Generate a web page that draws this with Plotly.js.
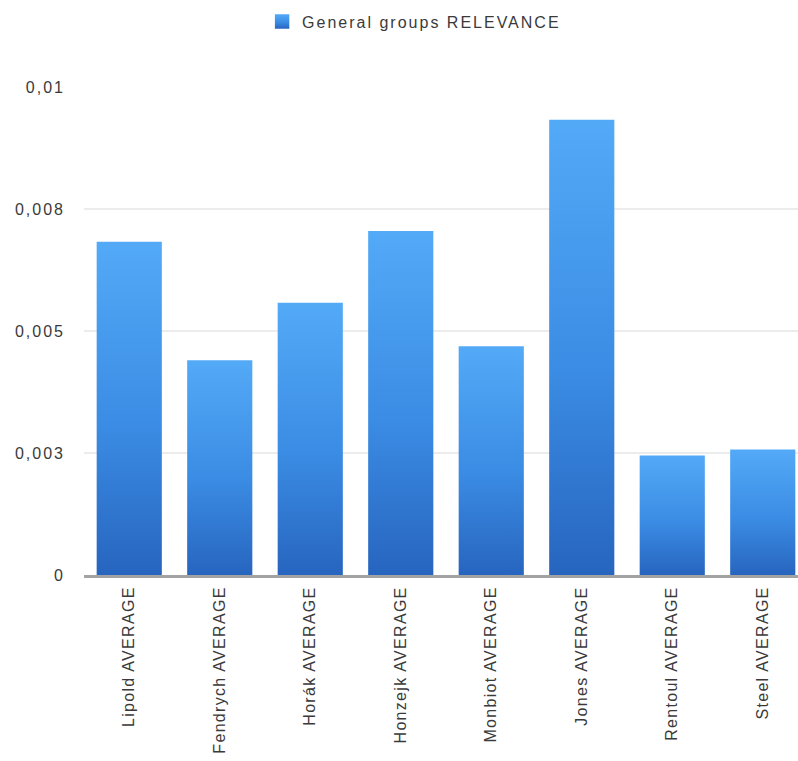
<!DOCTYPE html>
<html>
<head>
<meta charset="utf-8">
<script src="https://cdn.plot.ly/plotly-3.0.1.min.js"></script>
<style>
  html, body { margin: 0; padding: 0; background: #ffffff; overflow: hidden; }
  #chart { width: 808px; height: 761px; }
  .main-svg text { letter-spacing: 2px; }
  .main-svg .xtick text { letter-spacing: 1.3px; }
</style>
</head>
<body>
<div id="chart"></div>
<script>
// Average relevance per author group
const categories = [
  "Lipold AVERAGE",
  "Fendrych AVERAGE",
  "Horák AVERAGE",
  "Honzejk AVERAGE",
  "Monbiot AVERAGE",
  "Jones AVERAGE",
  "Rentoul AVERAGE",
  "Steel AVERAGE"
];
const relevance = [0.00683, 0.00440, 0.00558, 0.00705, 0.00469, 0.00933, 0.00245, 0.00257];
const seriesName = "General groups RELEVANCE";

// y axis ticks (labels are shown rounded to three decimals with a comma)
const yTickVals = [0, 0.0025, 0.005, 0.0075, 0.01];
const yTickText = ["0", "0,003", "0,005", "0,008", "0,01"];

const font = { family: "Liberation Sans, Arial, sans-serif", size: 16, color: "#3a3a3a" };

const trace = {
  type: "bar",
  name: seriesName,
  x: categories,
  y: relevance,
  marker: { color: "#3f8fe6", line: { width: 0 } },
  showlegend: true,
  hoverinfo: "x+y"
};

const layout = {
  width: 808,
  height: 761,
  margin: { l: 84, r: 0, t: 87, b: 186, pad: 0 },
  paper_bgcolor: "#ffffff",
  plot_bgcolor: "#ffffff",
  font: font,
  bargap: 0.28,
  showlegend: true,
  legend: {
    orientation: "h",
    x: 0.246, xanchor: "left",
    y: 1.134, yanchor: "middle",
    font: font,
    itemwidth: 30,
    entrywidth: 320,
    entrywidthmode: "pixels"
  },
  xaxis: {
    type: "category",
    tickangle: -90,
    ticks: "",
    showgrid: false,
    showline: true,
    linecolor: "#a3a3a3",
    linewidth: 3,
    ticklabelstandoff: 2,
    tickfont: font
  },
  yaxis: {
    range: [0, 0.01],
    tickvals: yTickVals,
    ticktext: yTickText,
    showgrid: true,
    gridcolor: "#ececec",
    gridwidth: 2,
    zeroline: false,
    showline: false,
    ticks: "",
    ticklabelstandoff: 18,
    tickfont: font
  }
};

Plotly.newPlot("chart", [trace], layout, { displayModeBar: false, staticPlot: true }).then(function (gd) {
  // vertical light-to-dark blue gradient for each bar and the legend swatch
  const svgNS = "http://www.w3.org/2000/svg";
  const svg = gd.querySelector(".main-svg");
  let defs = svg.querySelector("defs");
  if (!defs) { defs = document.createElementNS(svgNS, "defs"); svg.insertBefore(defs, svg.firstChild); }
  const grad = document.createElementNS(svgNS, "linearGradient");
  grad.setAttribute("id", "barGrad");
  grad.setAttribute("x1", "0"); grad.setAttribute("y1", "0");
  grad.setAttribute("x2", "0"); grad.setAttribute("y2", "1");
  [["0", "#53aaf7"], ["0.55", "#3b8ce4"], ["1", "#2765bf"]].forEach(function (s) {
    const stop = document.createElementNS(svgNS, "stop");
    stop.setAttribute("offset", s[0]);
    stop.setAttribute("stop-color", s[1]);
    grad.appendChild(stop);
  });
  defs.appendChild(grad);
  gd.querySelectorAll(".barlayer .point path").forEach(function (p) {
    p.style.fill = "url(#barGrad)";
  });
  // slightly larger legend swatch
  gd.querySelectorAll(".legendpoints path").forEach(function (p) {
    p.style.fill = "url(#barGrad)";
    const t = p.getAttribute("transform") || "";
    p.setAttribute("transform", t + " scale(1.2)");
  });
});
</script>
</body>
</html>
